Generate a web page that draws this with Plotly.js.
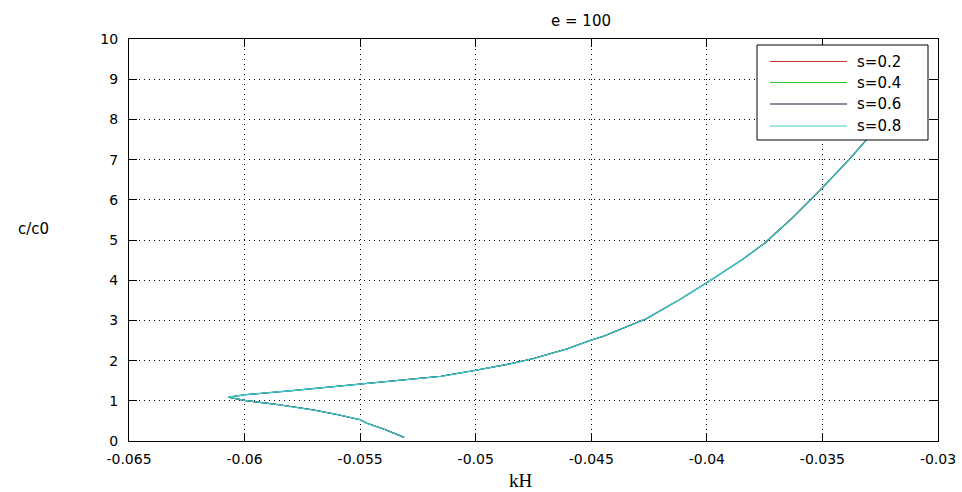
<!DOCTYPE html>
<html>
<head>
<meta charset="utf-8">
<script src="https://cdn.plot.ly/plotly-3.0.1.min.js"></script>
<style>html,body{margin:0;padding:0;background:#fff;}#chart{width:962px;height:492px;}</style>
</head>
<body>
<div id="chart"></div>
<script>
// ---- data ----
const seriesNames = ['s=0.2', 's=0.4', 's=0.6', 's=0.8'];
const seriesColors = ['#cc3333', '#33c033', '#1c1c3c', '#3cc8d2'];
// all four curves coincide in the picture
const kH = [-0.0531, -0.0539, -0.0547, -0.0550, -0.0560, -0.0570, -0.0585, -0.0600, -0.0607,
            -0.0600, -0.0580, -0.0560, -0.0550, -0.0530, -0.0515, -0.0500, -0.0485, -0.0475,
            -0.0460, -0.0450, -0.0445, -0.0426, -0.0412, -0.0400, -0.0392, -0.0385, -0.0375,
            -0.0363, -0.0351, -0.0338, -0.0331, -0.0322, -0.0312];
const cRatio = [0.09, 0.28, 0.44, 0.53, 0.66, 0.77, 0.90, 1.01, 1.09,
                1.15, 1.25, 1.36, 1.41, 1.51, 1.61, 1.76, 1.92, 2.05,
                2.30, 2.51, 2.60, 3.05, 3.51, 3.94, 4.24, 4.50, 4.92,
                5.55, 6.24, 7.03, 7.49, 8.10, 8.90];
const xTickVals = [-0.065, -0.06, -0.055, -0.05, -0.045, -0.04, -0.035, -0.03];
const xTickText = ['-0.065', '-0.06', '-0.055', '-0.05', '-0.045', '-0.04', '-0.035', '-0.03'];
const yTickVals = [0, 1, 2, 3, 4, 5, 6, 7, 8, 9, 10];

// ---- geometry (pixels) ----
const W = 962, H = 492;
const L = 129, R = 938, T = 39, B = 441;
const pw = R - L, ph = B - T;
const px = x => (x - L) / pw;
const py = y => (B - y) / ph;

const tickFont = {family: 'DejaVu Sans, sans-serif', size: 14, color: '#000'};
const textFont = {family: 'DejaVu Sans, sans-serif', size: 15, color: '#000'};

const traces = seriesNames.map((n, i) => ({
  type: 'scatter', mode: 'lines', name: n,
  x: kH, y: cRatio,
  line: {color: seriesColors[i], width: i === 3 ? 1.3 : 1.1},
  showlegend: false, hoverinfo: 'skip'
}));

// custom legend drawn in paper coordinates (box occludes the curve as in the reference)
const legL = 757, legR = 928, legT = 45, legB = 140;
const rowY = [61.5, 82.5, 104, 126];
const shapes = [{
  type: 'rect', xref: 'paper', yref: 'paper', layer: 'above',
  x0: px(legL), x1: px(legR), y0: py(legB), y1: py(legT),
  line: {color: '#000', width: 1}, fillcolor: '#fff'
}];
const annotations = [];
seriesNames.forEach((n, i) => {
  shapes.push({
    type: 'line', xref: 'paper', yref: 'paper', layer: 'above',
    x0: px(770), x1: px(847), y0: py(rowY[i]), y1: py(rowY[i]),
    line: {color: seriesColors[i], width: 1.2}
  });
  annotations.push({
    xref: 'paper', yref: 'paper', x: px(855), y: py(rowY[i]),
    xanchor: 'left', yanchor: 'middle', showarrow: false,
    text: n, font: textFont
  });
});
// y-axis label (horizontal, as in the reference)
annotations.push({
  xref: 'paper', yref: 'paper', x: px(33), y: py(229),
  xanchor: 'center', yanchor: 'middle', showarrow: false,
  text: 'c/c0', font: textFont
});
// x-axis label
annotations.push({
  xref: 'paper', yref: 'paper', x: px(521), y: py(480),
  xanchor: 'center', yanchor: 'middle', showarrow: false,
  text: 'kH', font: {family: 'Liberation Serif, serif', size: 19, color: '#000'}
});

const axisCommon = {
  showline: true, linecolor: '#000', linewidth: 1, mirror: 'ticks',
  ticks: 'inside', ticklen: 8, tickcolor: '#000', tickwidth: 1,
  showgrid: true, gridcolor: '#000', gridwidth: 1, griddash: '1px,4px',
  zeroline: false, tickfont: tickFont
};

const layout = {
  width: W, height: H,
  margin: {l: L, r: W - R, t: T, b: H - B, pad: 0},
  paper_bgcolor: '#fff', plot_bgcolor: '#fff',
  showlegend: false,
  title: {text: 'e = 100', font: textFont, x: 581 / W, xanchor: 'center', y: 1 - 21 / H, yanchor: 'middle'},
  xaxis: Object.assign({}, axisCommon, {
    range: [-0.065, -0.03], tickvals: xTickVals, ticktext: xTickText, ticklabelstandoff: 5
  }),
  yaxis: Object.assign({}, axisCommon, {
    range: [0, 10], tickvals: yTickVals, ticktext: yTickVals.map(String), ticklabelstandoff: 7
  }),
  shapes: shapes,
  annotations: annotations
};

Plotly.newPlot('chart', traces, layout, {displayModeBar: false, staticPlot: true});
</script>
</body>
</html>
